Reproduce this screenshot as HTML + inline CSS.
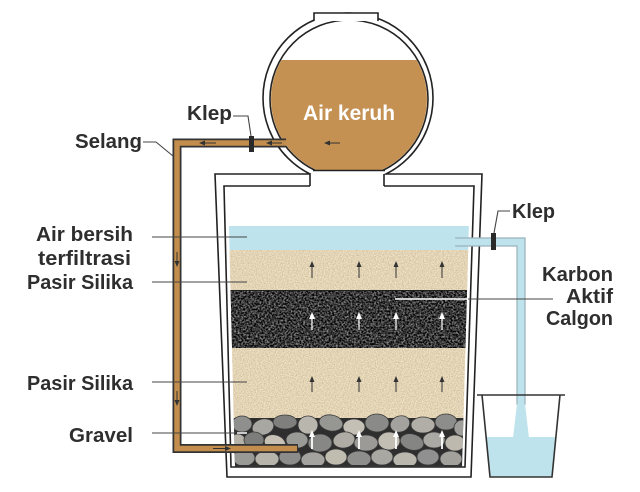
<!DOCTYPE html>
<html><head><meta charset="utf-8"><style>
html,body{margin:0;padding:0;background:#fff;}
svg{display:block;}
text{font-family:"Liberation Sans",sans-serif;font-weight:bold;fill:#2e2e2e;font-size:20px;}
</style></head><body>
<svg width="640" height="492" viewBox="0 0 640 492" xmlns="http://www.w3.org/2000/svg">
<defs>
<filter id="sandf" filterUnits="userSpaceOnUse" x="220" y="240" width="270" height="190" color-interpolation-filters="sRGB">
<feTurbulence type="fractalNoise" baseFrequency="0.85" numOctaves="2" seed="3" result="n"/>
<feColorMatrix in="n" type="matrix" values="0.3 0 0 0 0.74  0.3 0 0 0 0.68  0.32 0 0 0 0.55  0 0 0 0 1" result="c"/>
<feComposite in="c" in2="SourceGraphic" operator="in"/>
</filter>
<filter id="carbf" filterUnits="userSpaceOnUse" x="220" y="285" width="270" height="70" color-interpolation-filters="sRGB">
<feTurbulence type="fractalNoise" baseFrequency="0.55" numOctaves="2" seed="7" result="n"/>
<feColorMatrix in="n" type="matrix" values="1.2 0 0 0 -0.38  1.2 0 0 0 -0.38  1.2 0 0 0 -0.38  0 0 0 0 1" result="c"/>
<feComposite in="c" in2="SourceGraphic" operator="in"/>
</filter>
<clipPath id="layers"><polygon points="228,186 235,467 462,467 470,186"/></clipPath>
<clipPath id="above174"><rect x="0" y="0" width="640" height="174"/></clipPath>
<clipPath id="above170"><rect x="0" y="0" width="640" height="170.5"/></clipPath>
<clipPath id="innerc"><circle cx="349" cy="99" r="78"/></clipPath>
<marker id="ad" markerWidth="6" markerHeight="6" refX="3" refY="3" orient="auto" markerUnits="userSpaceOnUse"><path d="M0,0.5 L6,3 L0,5.5 Z" fill="#333"/></marker>
<marker id="aw" markerWidth="7" markerHeight="7" refX="3" refY="3.5" orient="auto" markerUnits="userSpaceOnUse"><path d="M0,0.5 L7,3.5 L0,6.5 Z" fill="#fff"/></marker>
</defs>

<!-- tank walls -->
<path d="M215,174 L227,477 L471,477 L482,174 Z" fill="#fff"/>
<path d="M310,174 L215,174 L227,477 L471,477 L482,174 L384,174" fill="none" stroke="#222" stroke-width="1.6"/>
<path d="M310,186 L224,186 L231,467 L465,467 L474,186 L384,186" fill="none" stroke="#222" stroke-width="1.6"/>
<path d="M310,174 V186 M384,174 V186" stroke="#222" stroke-width="1.6"/>

<!-- layers -->
<g clip-path="url(#layers)">
<rect x="220" y="226" width="260" height="24" fill="#BEE3EC"/>
<rect x="220" y="250" width="260" height="40" fill="#E4D5B5"/>
<rect x="220" y="250" width="260" height="40" fill="#000" filter="url(#sandf)"/>
<rect x="220" y="290" width="260" height="58" fill="#333"/>
<rect x="220" y="290" width="260" height="58" fill="#000" filter="url(#carbf)"/>
<line x1="220" y1="290.5" x2="480" y2="290.5" stroke="#222" stroke-width="1"/>
<rect x="220" y="348" width="260" height="70" fill="#E4D5B5"/>
<rect x="220" y="348" width="260" height="70" fill="#000" filter="url(#sandf)"/>
<rect x="220" y="418" width="260" height="49" fill="#2e2e2e"/>
<g stroke="#3a3a3a" stroke-width="0.8">
<ellipse cx="242" cy="424" rx="10" ry="8" fill="#8f8f8d"/>
<ellipse cx="263" cy="427" rx="11" ry="8" fill="#a9a7a1" transform="rotate(-15 263 427)"/>
<ellipse cx="285" cy="422" rx="12" ry="7" fill="#7f7f7e"/>
<ellipse cx="308" cy="425" rx="10" ry="9" fill="#b9b6ae"/>
<ellipse cx="331" cy="423" rx="12" ry="8" fill="#969693" transform="rotate(10 331 423)"/>
<ellipse cx="354" cy="427" rx="11" ry="8" fill="#c4c0b5"/>
<ellipse cx="377" cy="423" rx="12" ry="9" fill="#8a8a88"/>
<ellipse cx="400" cy="424" rx="10" ry="8" fill="#a3a29e" transform="rotate(-20 400 424)"/>
<ellipse cx="423" cy="425" rx="12" ry="8" fill="#b0aea7"/>
<ellipse cx="446" cy="422" rx="11" ry="8" fill="#8d8d8b"/>
<ellipse cx="462" cy="428" rx="8" ry="8" fill="#9f9e9a"/>
<ellipse cx="238" cy="442" rx="8" ry="8" fill="#b5b2aa"/>
<ellipse cx="254" cy="440" rx="10" ry="8" fill="#7d7d7b"/>
<ellipse cx="275" cy="443" rx="11" ry="8" fill="#c6c1b4" transform="rotate(20 275 443)"/>
<ellipse cx="297" cy="440" rx="11" ry="8" fill="#9a9a97"/>
<ellipse cx="320" cy="443" rx="12" ry="9" fill="#878786"/>
<ellipse cx="344" cy="440" rx="11" ry="8" fill="#aeaca5" transform="rotate(-10 344 440)"/>
<ellipse cx="366" cy="443" rx="12" ry="8" fill="#9b9a96"/>
<ellipse cx="389" cy="441" rx="11" ry="9" fill="#c2beb3"/>
<ellipse cx="412" cy="442" rx="12" ry="8" fill="#858584" transform="rotate(15 412 442)"/>
<ellipse cx="434" cy="440" rx="11" ry="8" fill="#aaa9a4"/>
<ellipse cx="455" cy="443" rx="10" ry="8" fill="#bdb9ae"/>
<ellipse cx="244" cy="458" rx="11" ry="8" fill="#999996"/>
<ellipse cx="267" cy="459" rx="12" ry="8" fill="#b7b4ab"/>
<ellipse cx="290" cy="457" rx="11" ry="8" fill="#8c8c8a"/>
<ellipse cx="313" cy="460" rx="12" ry="8" fill="#a4a39f"/>
<ellipse cx="336" cy="457" rx="11" ry="8" fill="#c0bcb0"/>
<ellipse cx="359" cy="459" rx="12" ry="8" fill="#8e8e8c"/>
<ellipse cx="382" cy="457" rx="11" ry="8" fill="#a8a7a2"/>
<ellipse cx="405" cy="460" rx="12" ry="8" fill="#bab7ae"/>
<ellipse cx="428" cy="457" rx="11" ry="8" fill="#909090"/>
<ellipse cx="451" cy="459" rx="11" ry="8" fill="#a2a19c"/>
</g>
<line x1="220" y1="466" x2="480" y2="466" stroke="#333" stroke-width="2"/>
</g>

<!-- layer arrows -->
<g stroke="#333" stroke-width="1" marker-end="url(#ad)">
<line x1="312" y1="278" x2="312" y2="264"/><line x1="359" y1="278" x2="359" y2="264"/>
<line x1="396" y1="278" x2="396" y2="264"/><line x1="442" y1="278" x2="442" y2="264"/>
<line x1="312" y1="392" x2="312" y2="379"/><line x1="359" y1="392" x2="359" y2="379"/>
<line x1="396" y1="392" x2="396" y2="379"/><line x1="442" y1="392" x2="442" y2="379"/>
</g>
<g stroke="#fff" stroke-width="1.2" marker-end="url(#aw)">
<line x1="312" y1="330" x2="312" y2="316"/><line x1="359" y1="330" x2="359" y2="316"/>
<line x1="396" y1="330" x2="396" y2="316"/><line x1="442" y1="330" x2="442" y2="316"/>
</g>
<g stroke="#fff" stroke-width="1.8" marker-end="url(#aw)">
<line x1="312" y1="449" x2="312" y2="434"/><line x1="359" y1="449" x2="359" y2="434"/>
<line x1="396" y1="449" x2="396" y2="434"/><line x1="442" y1="449" x2="442" y2="434"/>
</g>

<!-- sphere -->
<circle cx="348" cy="98" r="85" fill="#fff" stroke="#222" stroke-width="1.6" clip-path="url(#above174)"/>
<g clip-path="url(#above170)">
<circle cx="349" cy="99" r="79" fill="#fff" stroke="#222" stroke-width="1.6"/>
<rect x="260" y="60" width="180" height="111" fill="#C49153" clip-path="url(#innerc)"/>
</g>
<line x1="313" y1="170.5" x2="385" y2="170.5" stroke="#222" stroke-width="1.4"/>
<path d="M314,21 V13 H378 V21 Z" fill="#fff"/>
<path d="M314,21 V13 H378 V21" fill="none" stroke="#222" stroke-width="1.6"/>
<text x="303" y="120" textLength="92" lengthAdjust="spacingAndGlyphs" style="fill:#fff;font-size:21px">Air keruh</text>
<line x1="340" y1="143" x2="327" y2="143" stroke="#333" stroke-width="1" marker-end="url(#ad)"/>

<!-- hose -->
<path d="M286,143 H177 V448.5 H298" fill="none" stroke="#333" stroke-width="9" stroke-linejoin="miter"/>
<path d="M286,143 H177 V448.5 H297" fill="none" stroke="#C38E4D" stroke-width="5.5" stroke-linejoin="miter"/>
<g stroke="#333" stroke-width="1" marker-end="url(#ad)">
<line x1="216" y1="143" x2="202" y2="143"/>
<line x1="282" y1="143" x2="269" y2="143"/>
<line x1="177" y1="252" x2="177" y2="264"/>
<line x1="177" y1="391" x2="177" y2="403"/>
<line x1="213" y1="448.5" x2="228" y2="448.5"/>
</g>
<rect x="249" y="136" width="5" height="16" fill="#2a2a2a"/>

<!-- outlet pipe -->
<path d="M455,238 H525 V405 H517 V246 H455 Z" fill="#BEE3EC"/>
<path d="M455,238 H525 V405 M455,246 H517 V405" fill="none" stroke="#9ab2bb" stroke-width="1.2"/>
<polygon points="517,404 525,404 529,438 513,438" fill="#BEE3EC"/>
<polygon points="486,437 556,437 552,477 490,477" fill="#BEE3EC"/>
<path d="M477,395 H565 M482,395 L490,477 H552 L560,395" fill="none" stroke="#333" stroke-width="1.6"/>
<rect x="491" y="233" width="5" height="17" fill="#2a2a2a"/>

<!-- leaders -->
<g stroke="#444" stroke-width="1.1" fill="none">
<path d="M233,116 H248 L251,136"/>
<path d="M143,142 H156 L173,156"/>
<line x1="152" y1="237" x2="247" y2="237"/>
<line x1="152" y1="282" x2="247" y2="282"/>
<line x1="152" y1="382" x2="247" y2="382"/>
<line x1="152" y1="433" x2="236" y2="433"/>
<line x1="468" y1="299" x2="553" y2="299"/>
<path d="M510,211 H498 L494,233"/>
</g>
<line x1="237" y1="433" x2="247" y2="433" stroke="#fff" stroke-width="1.5"/>
<line x1="395" y1="299" x2="468" y2="299" stroke="#fff" stroke-width="1.5"/>

<!-- labels -->
<text x="187" y="120" textLength="45" lengthAdjust="spacingAndGlyphs">Klep</text>
<text x="75" y="148" textLength="67" lengthAdjust="spacingAndGlyphs">Selang</text>
<text x="36" y="241" textLength="97" lengthAdjust="spacingAndGlyphs">Air bersih</text>
<text x="38" y="265" textLength="93" lengthAdjust="spacingAndGlyphs">terfiltrasi</text>
<text x="27" y="289" textLength="106" lengthAdjust="spacingAndGlyphs">Pasir Silika</text>
<text x="27" y="390" textLength="106" lengthAdjust="spacingAndGlyphs">Pasir Silika</text>
<text x="69" y="442" textLength="64" lengthAdjust="spacingAndGlyphs">Gravel</text>
<text x="512" y="218" textLength="43" lengthAdjust="spacingAndGlyphs">Klep</text>
<text x="542" y="281" textLength="71" lengthAdjust="spacingAndGlyphs">Karbon</text>
<text x="566" y="303" textLength="47" lengthAdjust="spacingAndGlyphs">Aktif</text>
<text x="546" y="325" textLength="67" lengthAdjust="spacingAndGlyphs">Calgon</text>
</svg>
</body></html>
